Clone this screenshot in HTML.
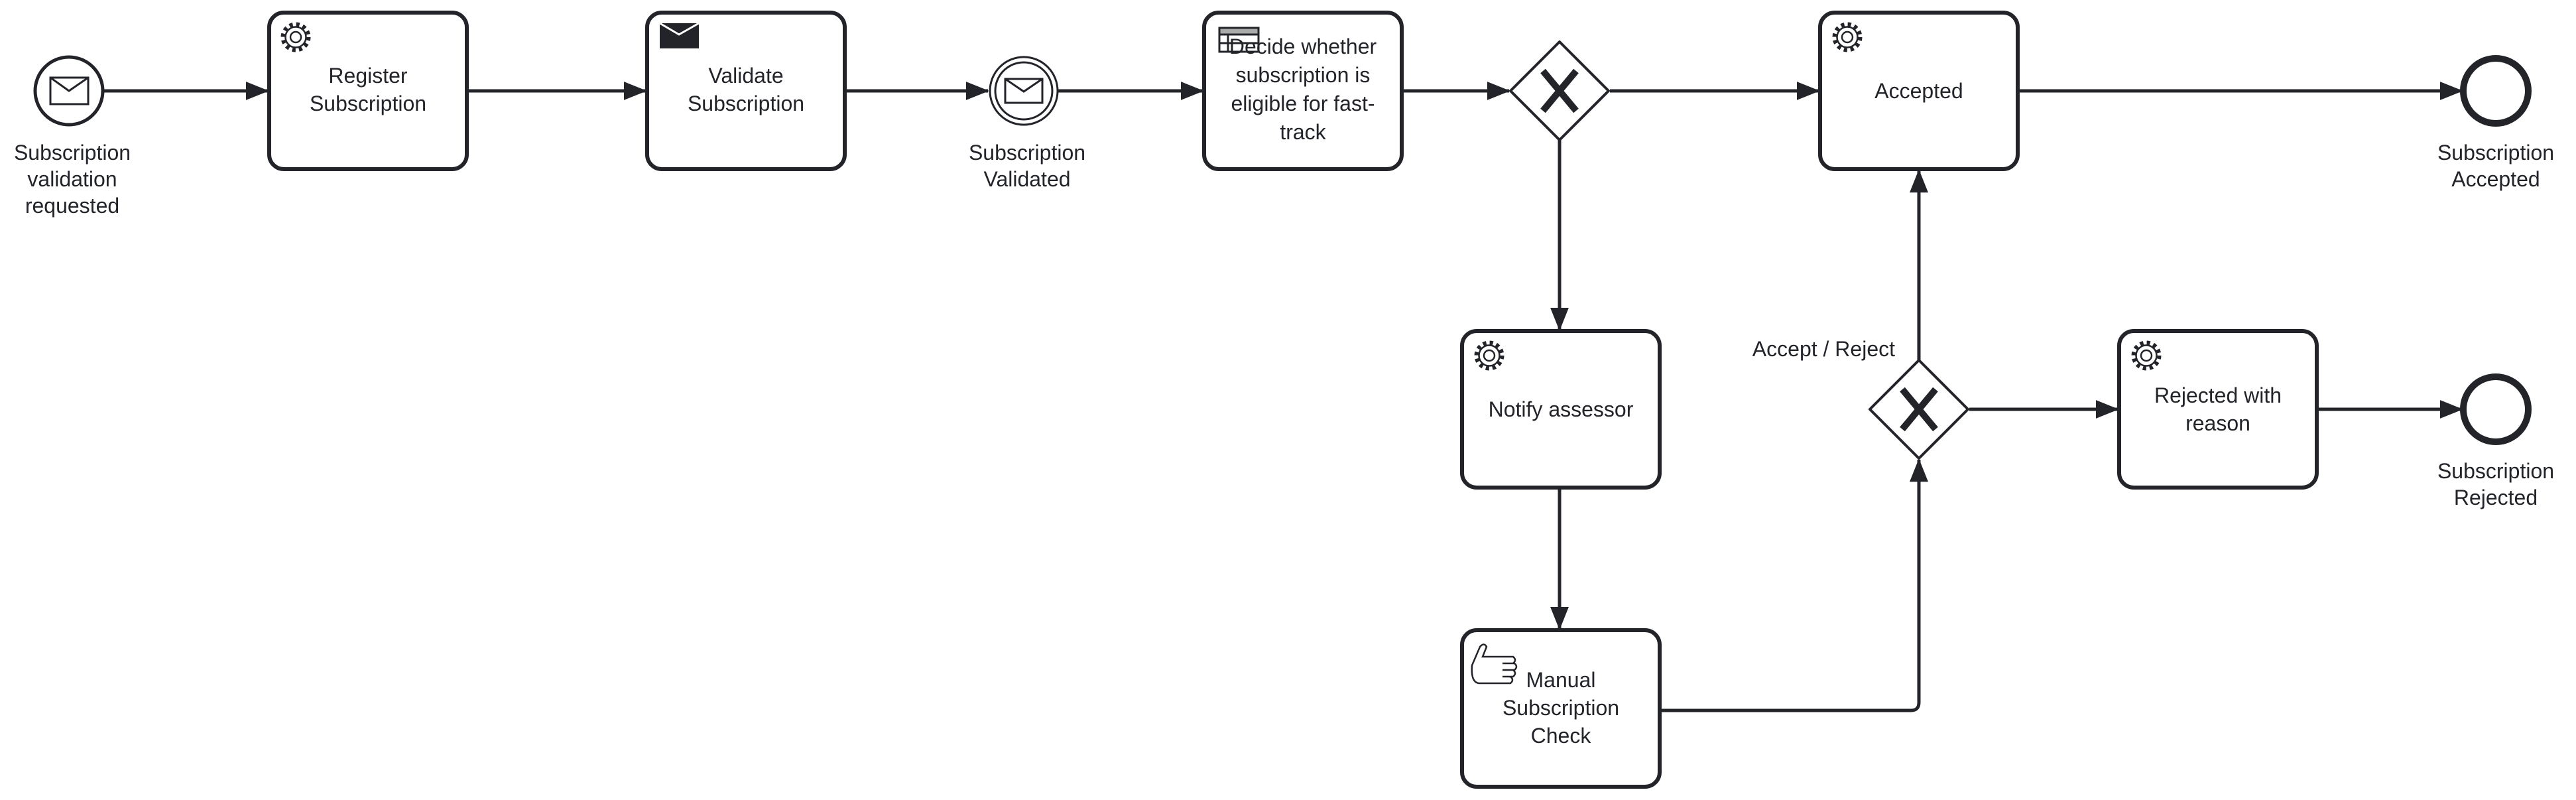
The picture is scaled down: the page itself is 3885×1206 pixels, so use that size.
<!DOCTYPE html>
<html><head><meta charset="utf-8"><style>
html,body{margin:0;padding:0;background:#fff;}
svg{display:block;}
text{font-family:"Liberation Sans",Arial,sans-serif;font-size:32px;fill:#22242a;text-anchor:middle;}
</style></head><body>
<svg width="3885" height="1206" viewBox="0 0 3885 1206" xmlns="http://www.w3.org/2000/svg">
<defs>
<marker id="ah" viewBox="0 0 20 20" refX="19" refY="10" markerWidth="7" markerHeight="7" markerUnits="strokeWidth" orient="auto">
<path d="M0,2 L20,10 L0,18 Z" fill="#22242a"/>
</marker>
<g id="gear" fill="none" stroke="#22242a" stroke-width="2.5">
<circle cx="0" cy="0" r="19" stroke-dasharray="5 5" stroke-width="7" stroke="#22242a"/>
<circle cx="0" cy="0" r="15.5" fill="#fff" stroke="#22242a"/>
<circle cx="0" cy="0" r="8" stroke="#22242a"/>
</g>
</defs>
<g fill="none" stroke="#22242a" stroke-linejoin="round">
<rect x="406" y="19" width="298" height="236" rx="22" stroke-width="6"/>
<rect x="976" y="19" width="298" height="236" rx="22" stroke-width="6"/>
<rect x="1816" y="19" width="298" height="236" rx="22" stroke-width="6"/>
<rect x="2745" y="19" width="298" height="236" rx="22" stroke-width="6"/>
<rect x="2205" y="499" width="298" height="236" rx="22" stroke-width="6"/>
<rect x="2205" y="950" width="298" height="236" rx="22" stroke-width="6"/>
<rect x="3196" y="499" width="298" height="236" rx="22" stroke-width="6"/>
<circle cx="104" cy="137" r="51" stroke-width="5"/>
<circle cx="1544" cy="137" r="51" stroke-width="3"/>
<circle cx="1544" cy="137" r="43" stroke-width="3"/>
<circle cx="3764" cy="137" r="49" stroke-width="10"/>
<circle cx="3764" cy="617" r="49" stroke-width="10"/>
<path d="M2352,63 L2426,137 L2352,211 L2278,137 Z" stroke-width="4"/>
<path d="M2894,543 L2968,617 L2894,691 L2820,617 Z" stroke-width="4"/>
<g stroke-width="10" stroke-linecap="butt">
<path d="M2327,107 L2377,167 M2377,107 L2327,167"/>
<path d="M2869,587 L2919,647 M2919,587 L2869,647"/>
</g>
<g stroke-width="5" marker-end="url(#ah)">
<path d="M156,137 L404,137"/>
<path d="M706,137 L974,137"/>
<path d="M1276,137 L1490,137"/>
<path d="M1596,137 L1814,137"/>
<path d="M2116,137 L2276,137"/>
<path d="M2428,137 L2743,137"/>
<path d="M3046,137 L3713,137"/>
<path d="M2352,211 L2352,497"/>
<path d="M2352,737 L2352,948"/>
<path d="M2505,1071 L2882,1071 Q2894,1071 2894,1059 L2894,693"/>
<path d="M2894,543 L2894,257"/>
<path d="M2970,617 L3194,617"/>
<path d="M3496,617 L3713,617"/>
</g>
</g>
<g fill="none" stroke="#22242a" stroke-width="3">
<rect x="76" y="117" width="57" height="40"/>
<path d="M76,117 L104,137 L133,117"/>
<rect x="1516" y="119" width="56" height="36"/>
<path d="M1516,119 L1544,138 L1572,119"/>
</g>
<rect x="995" y="35" width="59" height="38" fill="#22242a"/>
<path d="M995,35 L1024,52 L1054,35" fill="none" stroke="#fff" stroke-width="3"/>
<g stroke="#22242a" stroke-width="3">
<rect x="1839" y="42" width="59" height="36" fill="#fff"/>
<rect x="1839" y="42" width="59" height="10" fill="#aaa"/>
<line x1="1839" y1="65" x2="1898" y2="65"/>
<line x1="1852" y1="52" x2="1852" y2="78"/>
</g>
<use href="#gear" x="446" y="56"/>
<use href="#gear" x="2786" y="56"/>
<use href="#gear" x="2246" y="536"/>
<use href="#gear" x="3237" y="536"/>
<path d="M2220,1003 L2232,975 Q2238,968 2242,975 L2236,990 L2282,990 Q2288,995 2282,1000 L2266,1000 L2284,1000 Q2290,1005 2284,1010 L2266,1010 L2282,1010 Q2288,1015 2282,1020 L2266,1020 L2278,1020 Q2284,1025 2278,1030 L2230,1030 Q2218,1028 2220,1003 Z" fill="#fff" stroke="#22242a" stroke-width="2.5"/>
<text x="109" y="241">Subscription</text>
<text x="109" y="281">validation</text>
<text x="109" y="321">requested</text>
<text x="555" y="125">Register</text>
<text x="555" y="167">Subscription</text>
<text x="1125" y="125">Validate</text>
<text x="1125" y="167">Subscription</text>
<text x="1549" y="241">Subscription</text>
<text x="1549" y="281">Validated</text>
<text x="1965" y="81">Decide whether</text>
<text x="1965" y="124">subscription is</text>
<text x="1965" y="167">eligible for fast-</text>
<text x="1965" y="210">track</text>
<text x="2894" y="148">Accepted</text>
<text x="3764" y="241">Subscription</text>
<text x="3764" y="281">Accepted</text>
<text x="2354" y="628">Notify assessor</text>
<text x="2354" y="1036">Manual</text>
<text x="2354" y="1078">Subscription</text>
<text x="2354" y="1120">Check</text>
<text x="3345" y="607">Rejected with</text>
<text x="3345" y="649">reason</text>
<text x="3764" y="721">Subscription</text>
<text x="3764" y="761">Rejected</text>
<text x="2858" y="537" style="text-anchor:end">Accept / Reject</text>
</svg>
</body></html>
